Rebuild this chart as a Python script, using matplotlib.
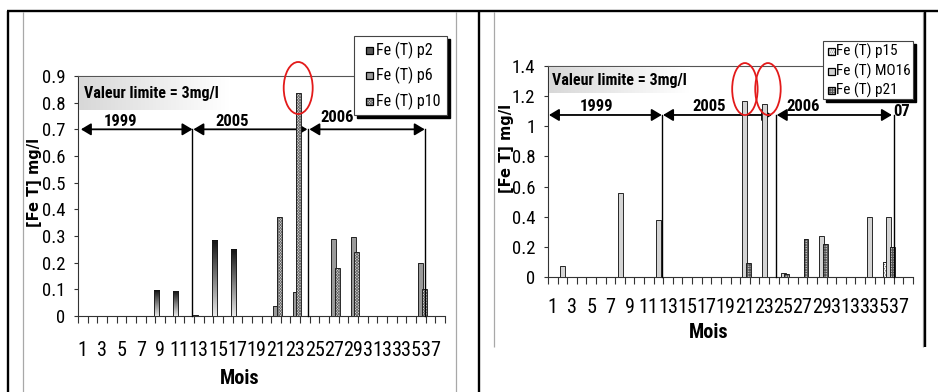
import numpy as np
import matplotlib
matplotlib.use("Agg")
import matplotlib.pyplot as plt
from matplotlib import font_manager
from matplotlib.colors import LinearSegmentedColormap
from matplotlib.patches import Rectangle, Ellipse

# ---------------------------------------------------------------------------
# Total iron concentration [Fe T] (mg/l) per sampling month, 1999-2007
# ---------------------------------------------------------------------------
tick_months = list(range(1, 38, 2))

# left panel: wells p2, p6, p10
p2_months = [9, 11, 13, 15, 17]
p2_values = [0.095, 0.092, 0.003, 0.282, 0.248]
p6_months = [21, 23, 27, 29, 36]
p6_values = [0.036, 0.089, 0.290, 0.295, 0.200]
p10_months = [21, 23, 27, 29, 36]
p10_values = [0.370, 0.835, 0.180, 0.240, 0.100]
left_labels = ["Fe (T) p2", "Fe (T) p6", "Fe (T) p10"]
left_yticks = [0, 0.1, 0.2, 0.3, 0.4, 0.5, 0.6, 0.7, 0.8, 0.9]

# right panel: wells p15, MO16, p21
p15_months = [36]
p15_values = [0.100]
mo16_months = [2, 8, 12, 21, 23, 25, 29, 34, 36]
mo16_values = [0.070, 0.555, 0.380, 1.170, 1.150, 0.028, 0.274, 0.400, 0.400]
p21_months = [21, 25, 27, 29, 36]
p21_values = [0.090, 0.018, 0.255, 0.222, 0.200]
right_labels = ["Fe (T) p15", "Fe (T) MO16", "Fe (T) p21"]
right_yticks = [0, 0.2, 0.4, 0.6, 0.8, 1.0, 1.2, 1.4]

limit_text = "Valeur limite = 3mg/l"
ylabel_text = "[Fe T] mg/l"
xlabel_text = "Mois"

# ---------------------------------------------------------------------------
avail = {f.name for f in font_manager.fontManager.ttflist}
FONT, NARROW_FOUND = "Liberation Sans", False
for cand in ["Liberation Sans Narrow", "Roboto Condensed", "Open Sans Condensed"]:
    if cand in avail:
        FONT, NARROW_FOUND = cand, True
        break
K = 1.0 if NARROW_FOUND else 0.82          # size factor for wide fallback
XTS = 14.5 * K                             # month label size
YTS = 13.5 * K                             # value label size
plt.rcParams["hatch.linewidth"] = 0.55

W, H = 938, 392
fig = plt.figure(figsize=(W / 100, H / 100), dpi=100)


def box(x0, y0, x1, y1, z):
    return fig.add_axes([x0 / W, 1 - y1 / H, (x1 - x0) / W, (y1 - y0) / H], zorder=z)


def overlay(z):
    a = box(0, 0, W, H, z)
    a.set_xlim(0, W)
    a.set_ylim(H, 0)
    a.axis("off")
    a.patch.set_alpha(0)
    return a


bg = overlay(0)
fg = overlay(6)

# table cell borders and chart-area frames
grey = "#a8a8a8"
for x, yt, yb in [(23, 12, H), (455.5, 12, H), (494, 12, 347), (922.5, 12, 347)]:
    bg.plot([x, x], [yt, yb], color=grey, lw=0.9, solid_capstyle="butt")
blk = dict(color="black", lw=1.7, solid_capstyle="butt")
bg.plot([6.5, W], [11, 11], **blk)
bg.plot([7.5, 7.5], [11, H], **blk)
bg.plot([479, 479], [11, H], **blk)
bg.plot([925, 925], [11, 347], **blk)

axL = box(78, 76, 445, 316, 2)
axR = box(548, 66, 913, 277, 2)

BW = 0.52
OFFS = [-0.36, 0.0, 0.36]
dark_grad = LinearSegmentedColormap.from_list("dg", ["#121212", "#e8e8e8"])
light_grad = LinearSegmentedColormap.from_list("lg", ["#d8d8d8", "#ffffff"])

STYLES = {
    "p2": dict(face="#5a5a5a", hatch=None, hcolor="#5a5a5a"),
    "p6": dict(face="#f8f8f8", hatch="-" * 28, hcolor="#9a9a9a"),
    "p10": dict(face="#dcdcdc", hatch="x" * 12, hcolor="#6a6a6a"),
    "p15": dict(face="#ffffff", hatch="." * 8, hcolor="#666666"),
    "MO16": dict(face="#d4d4d4", hatch=None, hcolor="#d4d4d4"),
    "p21": dict(face="#ffffff", hatch="+" * 10, hcolor="#555555"),
}
OUTLINE = dict(fill=False, edgecolor="#1a1a1a", lw=0.65)


def hatched_bars(ax, months_, values, off, st, z):
    x = np.asarray(months_, dtype=float) + off
    ax.bar(x, values, BW, color=st["face"], edgecolor=st["hcolor"],
           hatch=st["hatch"], lw=0, zorder=z)
    ax.bar(x, values, BW, zorder=z + 0.1, **OUTLINE)


def gradient_bars(ax, months_, values, off, z):
    x = np.asarray(months_, dtype=float) + off
    bars = ax.bar(x, values, BW, zorder=z + 0.1, **OUTLINE)
    grad = np.linspace(0, 1, 64)[:, None]
    for b in bars:
        x0, w, h = b.get_x(), b.get_width(), b.get_height()
        ax.imshow(grad, cmap=dark_grad, vmin=0, vmax=1, origin="upper",
                  extent=[x0, x0 + w, 0, h], aspect="auto", zorder=z,
                  interpolation="bilinear")


def setup(ax, yticks, xpad):
    ax.set_xlim(0.5, 38.5)
    ax.set_ylim(0, yticks[-1])
    ax.patch.set_alpha(0)
    ax.set_xticks(np.arange(0.5, 39.5, 1.0))
    ax.set_xticklabels([])
    ax.set_xticks(tick_months, minor=True)
    ax.set_xticklabels([str(m) for m in tick_months], minor=True,
                       fontsize=XTS, family=FONT)
    ax.tick_params(axis="x", which="major", direction="out", length=5,
                   width=0.8, color="#333333")
    ax.tick_params(axis="x", which="minor", length=0, pad=xpad)
    ax.set_yticks(yticks)
    ax.set_yticklabels([f"{round(v, 2):g}" for v in yticks], fontsize=YTS, family=FONT)
    ax.tick_params(axis="y", direction="out", length=3, width=0.8,
                   color="#333333", pad=6)
    ax.spines["right"].set_visible(False)
    for s in ("left", "bottom"):
        ax.spines[s].set_color("#333333")
        ax.spines[s].set_linewidth(0.8)
    ax.spines["top"].set_color("#555555")
    ax.spines["top"].set_linewidth(0.8)


def periods(ax, y, spans, breaks, labels):
    for xa, xb in spans:
        ax.annotate("", xy=(xb, y), xytext=(xa, y), annotation_clip=False,
                    arrowprops=dict(arrowstyle="<|-|>,head_length=0.6,head_width=0.36",
                                    mutation_scale=10, lw=1.3, color="black",
                                    shrinkA=0, shrinkB=0))
    for xb in breaks:
        ax.plot([xb, xb], [0, y], color="black", lw=1.0, zorder=4, clip_on=False)
    for (xt, yt, txt) in labels:
        ax.text(xt, yt, txt, ha="center", va="center", fontsize=12 * K,
                fontweight="bold", family=FONT, clip_on=False)


# ---- left panel -----------------------------------------------------------
gradient_bars(axL, p2_months, p2_values, OFFS[0], 3)
hatched_bars(axL, p6_months, p6_values, OFFS[1], STYLES["p6"], 3.2)
hatched_bars(axL, p10_months, p10_values, OFFS[2], STYLES["p10"], 3.4)
setup(axL, left_yticks, 18)
periods(axL, 0.7,
        [(0.8, 12.35), (12.45, 24.25), (24.46, 36.4)],
        [12.35, 24.35, 36.4],
        [(4.86, 0.73, "1999"), (16.48, 0.73, "2005"), (27.3, 0.745, "2006")])
axL.add_patch(Ellipse((23.3, 0.855), 3.0, 0.195, fill=False, edgecolor="#e31a1a",
                      lw=1.3, zorder=6, clip_on=False))

# ---- right panel ----------------------------------------------------------
hatched_bars(axR, p15_months, p15_values, OFFS[0], STYLES["p15"], 3)
hatched_bars(axR, mo16_months, mo16_values, OFFS[1], STYLES["MO16"], 3.2)
hatched_bars(axR, p21_months, p21_values, OFFS[2], STYLES["p21"], 3.4)
setup(axR, right_yticks, 15)
periods(axR, 1.075,
        [(0.6, 12.34), (12.48, 23.83), (24.32, 36.3)],
        [12.34, 24.25, 36.47],
        [(5.5, 1.13, "1999"), (17.3, 1.13, "2005"), (27.1, 1.13, "2006"),
         (37.3, 1.095, "07")])
for cx in (21.0, 23.4):
    axR.add_patch(Ellipse((cx, 1.247), 2.65, 0.345, fill=False, edgecolor="#e31a1a",
                          lw=1.3, zorder=6, clip_on=False))

# ---- overlay: limit boxes, legends, axis titles ---------------------------
for (x0, y0, x1, y1, tx, ty) in [(79, 77, 230, 110, 84, 93), (549, 67, 690, 93, 552, 80)]:
    fg.imshow(np.linspace(0, 1, 64)[None, :], cmap=light_grad, vmin=0, vmax=1,
              extent=[x0, x1, y1, y0], aspect="auto", zorder=1)
    fg.text(tx, ty, limit_text, ha="left", va="center", fontsize=11.5 * K,
            fontweight="bold", family=FONT, zorder=2)


def legend(x0, y0, x1, y1, rows, labels, keys, mx, tx, fs):
    fg.add_patch(Rectangle((x0 + 3, y0 + 3), x1 - x0, y1 - y0, color="black", zorder=3))
    fg.add_patch(Rectangle((x0, y0), x1 - x0, y1 - y0, facecolor="white",
                           edgecolor="#444444", lw=0.8, zorder=4))
    for ym, lab, key in zip(rows, labels, keys):
        st = STYLES[key]
        fg.add_patch(Rectangle((mx, ym - 3.5), 6.5, 7, facecolor=st["face"],
                               edgecolor=st["hcolor"], hatch=st["hatch"], lw=0, zorder=5))
        fg.add_patch(Rectangle((mx, ym - 3.5), 6.5, 7, fill=False,
                               edgecolor="black", lw=0.9, zorder=5.1))
        fg.text(tx, ym, lab, ha="left", va="center", fontsize=fs, family=FONT, zorder=6)


legend(354, 36, 447, 115, [50, 75, 101], left_labels, ["p2", "p6", "p10"],
       366, 375.5, 11.5 * K)
legend(823, 41, 913, 99, [51.5, 71, 90], right_labels, ["p15", "MO16", "p21"],
       828, 836, 11 * K)

for (x, y) in [(35, 182), (506, 148)]:
    fg.text(x, y, ylabel_text, rotation=90, ha="center", va="center",
            fontsize=10.5, fontweight="bold", family="DejaVu Sans")
for (x, y) in [(240, 378), (709, 332)]:
    fg.text(x, y, xlabel_text, ha="center", va="center", fontsize=14.5 * K,
            fontweight="bold", family=FONT)

fg.set_xlim(0, W)
fg.set_ylim(H, 0)

fig.savefig("out.png", dpi=100)
